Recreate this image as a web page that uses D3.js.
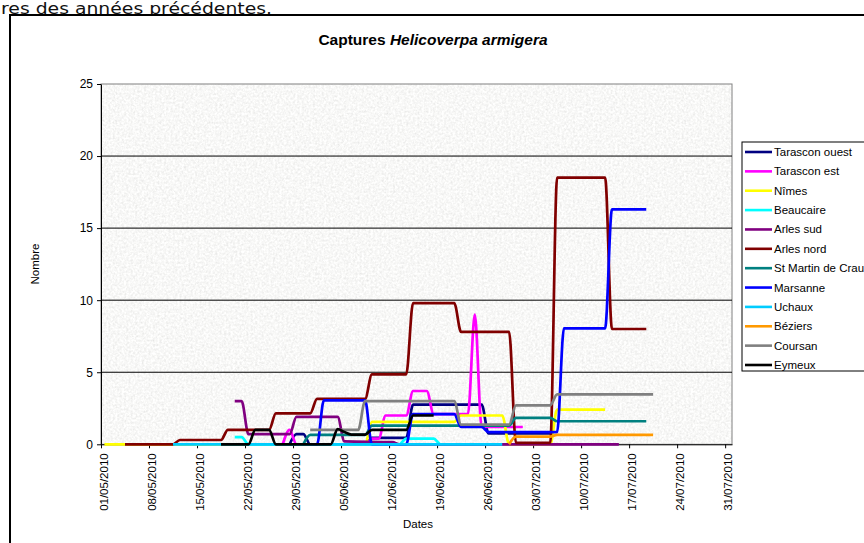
<!DOCTYPE html>
<html><head><meta charset="utf-8">
<script src="https://cdn.jsdelivr.net/npm/d3@7"></script>
<style>html,body{margin:0;padding:0;background:#fff;overflow:hidden}svg{display:block}</style>
</head><body>
<svg id="chart" width="864" height="543"></svg>
<script>
// ---------- DATA ----------
const seriesNames = ["Tarascon ouest","Tarascon est","Nîmes","Beaucaire","Arles sud","Arles nord",
  "St Martin de Crau","Marsanne","Uchaux","Béziers","Coursan","Eymeux"];
const seriesColors = ["#000080","#FF00FF","#FFFF00","#00FFFF","#800080","#800000",
  "#008080","#0000FF","#00CCFF","#FF9900","#808080","#000000"];

const tarasconOuest = [["28/05",0],["29/05",0.7],["30/05",0.7],["31/05",0],["08/06",0],["09/06",0.45],
  ["14/06",0.45],["15/06",2.75],["25/06",2.75],["26/06",0.75],["05/07",0.75]];
const tarasconEst = [["27/05",0],["28/05",1.0],["29/05",0],["08/06",0],["09/06",0.4],["10/06",0.4],
  ["11/06",2.0],["14/06",2.0],["15/06",3.7],["17/06",3.7],["18/06",2.1],["23/06",2.1],["24/06",9.0],
  ["25/06",1.2],["01/07",1.2]];
const nimes = [["01/05",0],["08/06",0],["09/06",1.55],["21/06",1.55],["22/06",2.0],["28/06",2.0],
  ["29/06",0],["05/07",0],["06/07",2.4],["13/07",2.4]];
const beaucaire = [["20/05",0.5],["21/05",0.5],["22/05",0],["13/06",0],["14/06",0.4],["18/06",0.4],
  ["19/06",0],["28/06",0]];
const arlesSud = [["20/05",3.0],["21/05",3.0],["22/05",0.7],["28/05",0.7],["29/05",1.9],["04/06",1.9],
  ["05/06",0.2],["12/06",0.15],["13/06",0],["15/07",0]];
const arlesNord = [["04/05",0],["11/05",0],["12/05",0.3],["18/05",0.3],["19/05",1.0],["25/05",1.0],
  ["26/05",2.15],["31/05",2.15],["01/06",3.15],["08/06",3.15],["09/06",4.85],["14/06",4.85],
  ["15/06",9.8],["21/06",9.8],["22/06",7.8],["29/06",7.8],["30/06",0.1],["05/07",0.1],
  ["06/07",18.5],["13/07",18.5],["14/07",8.0],["19/07",8.0]];
const stMartinDeCrau = [["30/05",0],["31/05",0.65],["08/06",0.65],["09/06",1.3],["29/06",1.3],
  ["30/06",1.83],["05/07",1.83],["06/07",1.6],["19/07",1.6]];
const marsanne = [["31/05",0],["01/06",0],["02/06",3.05],["08/06",3.05],["09/06",0],["14/06",0],
  ["15/06",2.1],["21/06",2.1],["22/06",1.2],["25/06",1.2],["26/06",0.85],["06/07",0.85],
  ["07/07",8.05],["13/07",8.05],["14/07",16.3],["19/07",16.3]];
const uchaux = [["11/05",0],["28/06",0]];
const beziers = [["29/06",0],["30/06",0.53],["05/07",0.53],["06/07",0.65],["20/07",0.65]];
const coursan = [["31/05",1.0],["07/06",1.0],["08/06",3.0],["21/06",3.0],["22/06",1.37],["29/06",1.37],
  ["30/06",2.7],["05/07",2.7],["06/07",3.47],["20/07",3.47]];
const eymeux = [["18/05",0],["22/05",0],["23/05",1.0],["25/05",1.0],["26/05",0],["03/06",0],
  ["04/06",1.05],["05/06",0.85],["06/06",0.67],["08/06",0.67],["09/06",1.0],["14/06",1.0],
  ["15/06",2.0],["18/06",2.0]];

const seriesValues = [tarasconOuest,tarasconEst,nimes,beaucaire,arlesSud,arlesNord,
  stMartinDeCrau,marsanne,uchaux,beziers,coursan,eymeux];

const yTickValues = [0,5,10,15,20,25];
const xTickLabels = ["01/05/2010","08/05/2010","15/05/2010","22/05/2010","29/05/2010","05/06/2010",
  "12/06/2010","19/06/2010","26/06/2010","03/07/2010","10/07/2010","17/07/2010","24/07/2010","31/07/2010"];
const xDomainLabels = ["01/05/2010","01/08/2010"];
const titleParts = ["Captures ","Helicoverpa armigera"];
const yTitle = "Nombre", xTitle = "Dates";
const pageText = "res des années précédentes.";

// ---------- DRAW ----------
const svg = d3.select("#chart");
const parseFull = d3.utcParse("%d/%m/%Y");
const parseDay = s => parseFull(s + "/2010");
const halfDay = 12*3600*1000;

const L = 101, R = 732, T = 84, B = 444.3;
const x = d3.scaleUtc().domain(xDomainLabels.map(parseFull)).range([L, R]);
const y = d3.scaleLinear().domain([0, 25]).range([B, T]);

const defs = svg.append("defs");
const f = defs.append("filter").attr("id","granite")
  .attr("x",0).attr("y",0).attr("width",1).attr("height",1);
f.append("feTurbulence").attr("type","fractalNoise").attr("baseFrequency","0.45")
  .attr("numOctaves",3).attr("seed",7).attr("result","n");
f.append("feColorMatrix").attr("type","saturate").attr("values","0").attr("in","n").attr("result","g");
const ct = f.append("feComponentTransfer").attr("in","g");
ct.append("feFuncR").attr("type","linear").attr("slope",0.42).attr("intercept",0.73);
ct.append("feFuncG").attr("type","linear").attr("slope",0.42).attr("intercept",0.73);
ct.append("feFuncB").attr("type","linear").attr("slope",0.42).attr("intercept",0.72);
ct.append("feFuncA").attr("type","linear").attr("slope",0).attr("intercept",1);

// page text above the chart
svg.append("text").attr("x",1).attr("y",14).attr("font-family","'DejaVu Sans', sans-serif")
  .attr("font-size",15.5).attr("fill","#111").attr("textLength",271).attr("lengthAdjust","spacingAndGlyphs")
  .text(pageText);

// chart frame
svg.append("rect").attr("x",10).attr("y",15).attr("width",900).attr("height",600)
  .attr("fill","#fff").attr("stroke","#000").attr("stroke-width",2);

// title
const title = svg.append("text").attr("x",433).attr("y",45).attr("text-anchor","middle")
  .attr("font-family","'Liberation Sans', Arial, sans-serif").attr("font-size",15.5)
  .attr("font-weight","bold").attr("fill","#000");
title.append("tspan").text(titleParts[0]);
title.append("tspan").attr("font-style","italic").text(titleParts[1]);

// plot area
svg.append("rect").attr("x",L).attr("y",T).attr("width",R-L).attr("height",B-T)
  .attr("fill","#ececec").attr("filter","url(#granite)");
svg.append("rect").attr("x",L).attr("y",T).attr("width",R-L).attr("height",B-T)
  .attr("fill","none").attr("stroke","#808080").attr("stroke-width",1);

// gridlines
svg.append("g").selectAll("line").data(yTickValues.filter(v => v > 0 && v < 25)).join("line")
  .attr("x1",L).attr("x2",R).attr("y1",d => y(d)).attr("y2",d => y(d))
  .attr("stroke","#000").attr("stroke-width",1);

// y axis
const yAxis = svg.append("g").attr("transform",`translate(${L},0)`)
  .call(d3.axisLeft(y).tickValues(yTickValues).tickSize(4).tickSizeOuter(0).tickPadding(4));
yAxis.selectAll("text").attr("font-family","'Liberation Sans', Arial, sans-serif").attr("font-size",12).attr("fill","#000");
yAxis.selectAll("line, path").attr("stroke","#000");

// x axis
const xTickDates = xTickLabels.map(parseFull);
const xAxis = svg.append("g").attr("transform",`translate(0,${B})`)
  .call(d3.axisBottom(x).tickValues(xTickDates).tickSize(4).tickSizeOuter(0).tickFormat(""));
xAxis.selectAll("line, path").attr("stroke","#000");
svg.append("g").selectAll("text").data(xTickLabels).join("text")
  .attr("transform",d => `translate(${x(parseFull(d))+3},${B+9}) rotate(-90)`)
  .attr("text-anchor","end").attr("dominant-baseline","central")
  .attr("font-family","'Liberation Sans', Arial, sans-serif").attr("font-size",11.5).attr("fill","#000")
  .text(d => d);

// axis titles
svg.append("text").attr("transform","translate(35,264) rotate(-90)").attr("text-anchor","middle")
  .attr("dominant-baseline","central").attr("font-family","'Liberation Sans', Arial, sans-serif")
  .attr("font-size",11.5).attr("fill","#000").text(yTitle);
svg.append("text").attr("x",418).attr("y",528).attr("text-anchor","middle")
  .attr("font-family","'Liberation Sans', Arial, sans-serif").attr("font-size",11.5).attr("fill","#000").text(xTitle);

// lines
const line = d3.line()
  .x(d => x(new Date(parseDay(d[0]).getTime() + halfDay)))
  .y(d => y(d[1]))
  .curve(d3.curveMonotoneX);
svg.append("g").selectAll("path").data(seriesValues).join("path")
  .attr("d", d => line(d)).attr("fill","none")
  .attr("stroke",(d,i) => seriesColors[i]).attr("stroke-width",2.7)
  .attr("stroke-linejoin","round");

// legend
const lg = svg.append("g");
lg.append("rect").attr("x",742).attr("y",142).attr("width",140).attr("height",229)
  .attr("fill","#fff").attr("stroke","#000").attr("stroke-width",1);
const ly = d3.scalePoint().domain(seriesNames).range([152, 365]);
const items = lg.selectAll("g").data(seriesNames).join("g").attr("transform",d => `translate(0,${ly(d)})`);
items.append("line").attr("x1",745).attr("x2",772).attr("y1",0).attr("y2",0)
  .attr("stroke",(d,i) => seriesColors[i]).attr("stroke-width",2.6);
items.append("text").attr("x",774).attr("y",0).attr("dominant-baseline","central")
  .attr("font-family","'Liberation Sans', Arial, sans-serif").attr("font-size",11.5).attr("fill","#000")
  .text(d => d);
</script>
</body></html>
